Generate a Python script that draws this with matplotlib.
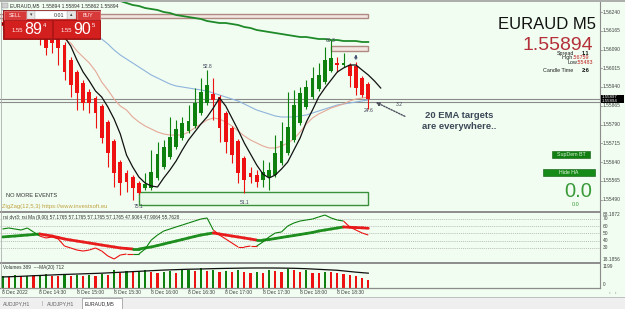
import matplotlib
matplotlib.use('Agg')
import matplotlib.pyplot as plt
from matplotlib.patches import Rectangle
from matplotlib.collections import LineCollection
import matplotlib.transforms as mtrans
import numpy as np

# ---------------- data ----------------
opens = [1.56200, 1.56184, 1.56192, 1.56168, 1.56176, 1.56152, 1.56156, 1.56140, 1.56128, 1.56132,
         1.56108, 1.56048, 1.56000, 1.55956, 1.55920, 1.55896, 1.55864, 1.55800, 1.55724, 1.55640,
         1.55596, 1.55580, 1.55556, 1.55536, 1.55536, 1.55576, 1.55620, 1.55660, 1.55700, 1.55736,
         1.55764, 1.55784, 1.55836, 1.55876, 1.55912, 1.55900, 1.55836, 1.55776, 1.55724, 1.55656,
         1.55596, 1.55588, 1.55568, 1.55580, 1.55588, 1.55636, 1.55676, 1.55728, 1.55796, 1.55860,
         1.55900, 1.55932, 1.55960, 1.56004, 1.56036, 1.56028, 1.56028, 1.56024, 1.55976, 1.55952]
highs = [1.56216, 1.56208, 1.56212, 1.56188, 1.56192, 1.56168, 1.56176, 1.56160, 1.56144, 1.56140,
         1.56120, 1.56060, 1.56008, 1.55968, 1.55932, 1.55904, 1.55872, 1.55808, 1.55732, 1.55648,
         1.55608, 1.55588, 1.55564, 1.55596, 1.55688, 1.55720, 1.55728, 1.55820, 1.55808, 1.55820,
         1.55868, 1.55936, 1.55976, 1.56008, 1.55976, 1.55908, 1.55844, 1.55784, 1.55732, 1.55664,
         1.55620, 1.55608, 1.55648, 1.55640, 1.55748, 1.55800, 1.55920, 1.55928, 1.55940, 1.55968,
         1.56020, 1.56036, 1.56100, 1.56128, 1.56060, 1.56076, 1.56036, 1.56040, 1.55984, 1.55960]
lows = [1.56168, 1.56160, 1.56156, 1.56144, 1.56136, 1.56140, 1.56108, 1.56068, 1.56076, 1.56028,
        1.55968, 1.55900, 1.55848, 1.55848, 1.55836, 1.55776, 1.55716, 1.55620, 1.55540, 1.55508,
        1.55520, 1.55488, 1.55512, 1.55528, 1.55528, 1.55568, 1.55612, 1.55652, 1.55692, 1.55728,
        1.55756, 1.55776, 1.55828, 1.55868, 1.55808, 1.55720, 1.55676, 1.55636, 1.55556, 1.55516,
        1.55556, 1.55540, 1.55540, 1.55528, 1.55580, 1.55628, 1.55668, 1.55720, 1.55788, 1.55852,
        1.55892, 1.55924, 1.55952, 1.56000, 1.56000, 1.56020, 1.55940, 1.55908, 1.55900, 1.55852]
closes = [1.56184, 1.56192, 1.56168, 1.56176, 1.56152, 1.56144, 1.56140, 1.56096, 1.56116, 1.56096,
          1.56000, 1.55948, 1.55916, 1.55876, 1.55876, 1.55836, 1.55736, 1.55676, 1.55596, 1.55556,
          1.55560, 1.55536, 1.55516, 1.55552, 1.55600, 1.55672, 1.55700, 1.55740, 1.55772, 1.55796,
          1.55804, 1.55876, 1.55920, 1.55948, 1.55888, 1.55776, 1.55720, 1.55668, 1.55596, 1.55568,
          1.55580, 1.55560, 1.55600, 1.55608, 1.55676, 1.55724, 1.55780, 1.55868, 1.55916, 1.55940,
          1.55976, 1.55988, 1.56048, 1.56056, 1.56028, 1.56036, 1.55984, 1.55936, 1.55908, 1.55894]

ma_fast = [1.56192, 1.56188, 1.56184, 1.56180, 1.56172, 1.56164, 1.56156, 1.56152, 1.56148, 1.56144,
           1.56140, 1.56104, 1.56048, 1.56000, 1.55964, 1.55924, 1.55900, 1.55860, 1.55812, 1.55752,
           1.55668, 1.55620, 1.55580, 1.55556, 1.55544, 1.55540, 1.55576, 1.55608, 1.55644, 1.55688,
           1.55728, 1.55760, 1.55792, 1.55820, 1.55856, 1.55896, 1.55864, 1.55816, 1.55768, 1.55716,
           1.55672, 1.55628, 1.55592, 1.55576, 1.55588, 1.55612, 1.55640, 1.55688, 1.55736, 1.55800,
           1.55848, 1.55900, 1.55936, 1.55968, 1.56000, 1.56016, 1.56028, 1.56028, 1.56008, 1.55988,
           1.55964, 1.55936]
ema20 = [1.56208, 1.56204, 1.56200, 1.56196, 1.56192, 1.56184, 1.56176, 1.56168, 1.56156, 1.56144,
         1.56132, 1.56116, 1.56084, 1.56060, 1.56036, 1.56004, 1.55960, 1.55928, 1.55892, 1.55864,
         1.55848, 1.55820, 1.55800, 1.55784, 1.55772, 1.55760, 1.55752, 1.55748, 1.55748, 1.55748,
         1.55760, 1.55776, 1.55792, 1.55808, 1.55816, 1.55812, 1.55800, 1.55784, 1.55764, 1.55744,
         1.55728, 1.55716, 1.55704, 1.55696, 1.55696, 1.55704, 1.55716, 1.55732, 1.55760, 1.55792,
         1.55816, 1.55832, 1.55844, 1.55856, 1.55864, 1.55872, 1.55884, 1.55892, 1.55896, 1.55900]
ema50 = [1.56248, 1.56240, 1.56232, 1.56224, 1.56216, 1.56208, 1.56200, 1.56192, 1.56184, 1.56176,
         1.56168, 1.56160, 1.56156, 1.56148, 1.56144, 1.56140, 1.56132, 1.56112, 1.56088, 1.56068,
         1.56052, 1.56036, 1.56020, 1.56004, 1.55988, 1.55976, 1.55964, 1.55952, 1.55944, 1.55940,
         1.55936, 1.55932, 1.55928, 1.55924, 1.55916, 1.55908, 1.55900, 1.55892, 1.55884, 1.55872,
         1.55860, 1.55848, 1.55840, 1.55832, 1.55824, 1.55820, 1.55820, 1.55820, 1.55824, 1.55828,
         1.55836, 1.55844, 1.55852, 1.55860, 1.55868, 1.55872, 1.55876, 1.55880, 1.55884, 1.55888]
ema200 = [1.56424, 1.56416, 1.56408, 1.56400, 1.56392, 1.56384, 1.56376, 1.56368, 1.56360, 1.56352,
          1.56344, 1.56336, 1.56328, 1.56320, 1.56312, 1.56308, 1.56300, 1.56296, 1.56288, 1.56284,
          1.56276, 1.56268, 1.56264, 1.56256, 1.56252, 1.56248, 1.56240, 1.56236, 1.56228, 1.56224,
          1.56220, 1.56216, 1.56212, 1.56204, 1.56200, 1.56196, 1.56196, 1.56192, 1.56188, 1.56180,
          1.56176, 1.56168, 1.56164, 1.56160, 1.56156, 1.56152, 1.56148, 1.56144, 1.56140, 1.56140,
          1.56136, 1.56132, 1.56132, 1.56128, 1.56128, 1.56124, 1.56124, 1.56124, 1.56120, 1.56120]

rsi = [56.2, 57.6, 56.2, 54.8, 57.6, 52.1, 46.5, 43.8, 45.2, 42.4,
       32.7, 30.0, 27.2, 25.8, 27.2, 30.0, 25.8, 18.9, 14.8, 20.3,
       21.7, 21.7, 21.7, 28.6, 41.0, 47.9, 53.4, 56.2, 59.0, 61.7,
       64.5, 67.2, 70.0, 71.4, 54.8, 47.9, 42.4, 36.9, 31.4, 31.4,
       32.7, 32.7, 38.3, 45.2, 50.7, 52.1, 60.3, 64.5, 67.2, 68.6,
       70.0, 72.8, 75.5, 71.4, 68.6, 67.2, 59.0, 54.8, 50.7, 47.9]
rsi_ma = [45.2, 45.9, 46.5, 47.2, 47.9, 48.6, 49.3, 47.9, 46.5, 44.5,
          42.4, 41.0, 39.6, 38.3, 36.9, 35.5, 34.1, 32.7, 31.4, 30.0,
          29.3, 28.6, 28.6, 30.0, 31.4, 33.4, 35.5, 37.6, 39.6, 41.7,
          43.8, 45.9, 47.9, 49.3, 50.7, 49.3, 47.9, 46.5, 45.2, 43.8,
          42.4, 41.0, 41.0, 41.7, 43.1, 44.5, 45.9, 47.2, 48.6, 50.0,
          51.4, 53.4, 54.8, 56.2, 57.6, 59.0, 58.6, 58.2, 57.8, 57.2]

volumes = [560, 520, 610, 560, 590, 560, 610, 650, 590, 570,
           600, 580, 640, 570, 620, 590, 660, 610, 860, 720,
           800, 760, 830, 850, 760, 720, 790, 830, 740, 850,
           870, 800, 960, 830, 860, 770, 810, 750, 860, 780,
           740, 790, 740, 870, 830, 790, 910, 880, 790, 870,
           740, 720, 790, 770, 720, 690, 620, 580, 500, 389]
vol_ma = [530, 540, 550, 560, 575, 590, 600, 615, 625, 640,
          650, 660, 670, 680, 690, 700, 710, 725, 740, 755,
          770, 785, 800, 815, 830, 845, 860, 870, 880, 890,
          900, 905, 912, 920, 928, 935, 940, 945, 950, 955,
          958, 960, 960, 960, 958, 955, 950, 945, 935, 925,
          910, 895, 880, 865, 850, 820, 790, 760, 735, 712]

price_ticks = [1.56240, 1.56165, 1.56090, 1.56015, 1.55940, 1.55865,
               1.55790, 1.55715, 1.55640, 1.55565, 1.55490]
rsi_levels = [70, 60, 50, 40, 30]
time_tick_bars = [0, 6, 12, 18, 24, 30, 36, 42, 48, 54]
time_labels = ["8 Dec 2022", "8 Dec 14:30", "8 Dec 15:00", "8 Dec 15:30", "8 Dec 16:00",
               "8 Dec 16:30", "8 Dec 17:00", "8 Dec 17:30", "8 Dec 18:00", "8 Dec 18:30"]
zones = [  # (start bar, end bar, low, high, kind)
    (-2, 59, 1.56216, 1.56232, 'supply'),
    (53, 59, 1.56084, 1.56104, 'supply'),
    (22, 59, 1.55468, 1.55520, 'demand'),
]
zz_labels = [(53, 1.56124, "60.3"), (33, 1.56024, "52.8"), (22, 1.55460, "75.1"),
             (39, 1.55476, "51.1"), (59, 1.55844, "24.6"), (64, 1.55872, "3.2")]
bid = 1.55894
hline2 = 1.55881

# ---------------- figure ----------------
W, H = 625, 309
plt.rcParams['font.family'] = ['Liberation Sans', 'DejaVu Sans']
fig = plt.figure(figsize=(W / 100, H / 100), dpi=100)
BG = '#f0fdf0'
fig.patch.set_facecolor(BG)
RED = '#ee1111'
GRN = '#0d800d'
TXT = '#404040'


def axes_px(x0, y0, x1, y1, z=1):
    a = fig.add_axes([x0 / W, 1 - y1 / H, (x1 - x0) / W, (y1 - y0) / H], zorder=z)
    a.axis('off')
    return a


X0, DX = 2.5, 6.2
XL = ((0 - X0) / DX, (600 - X0) / DX)

# ---- main chart ----
ax = axes_px(0, 2, 600, 211)
ax.set_xlim(*XL)
ax.set_ylim(1.55444, 1.56280)

for s, e, lo, hi, kind in zones:
    if kind == 'supply':
        fc, ec = '#f3e6e2', '#b08a80'
    else:
        fc, ec = '#eafaea', '#3a8f3a'
    ax.add_patch(Rectangle((s, lo), e - s, hi - lo, facecolor=fc, edgecolor=ec, lw=1.0, zorder=1))

ax.axhline(bid, color='#8a8a8a', lw=0.8, zorder=2)
ax.axhline(hline2, color='#8a8a8a', lw=0.8, zorder=2)

idx = np.arange(len(opens))
o, h, l, c = map(np.array, (opens, highs, lows, closes))
cols = np.where(c >= o, GRN, RED)
ax.vlines(idx, l, h, colors=cols, lw=0.8, zorder=4)
ax.bar(idx, np.maximum(np.abs(c - o), 0.00002), bottom=np.minimum(o, c), width=0.64,
       color=cols, lw=0, zorder=5)

ax.plot(np.arange(len(ema200)), ema200, color='#1f8a2a', lw=1.3, zorder=3)
ax.plot(np.arange(len(ema50)), ema50, color='#8fb4dc', lw=0.8, zorder=3)
ax.plot(np.arange(len(ema20)), ema20, color='#e6a898', lw=0.8, zorder=3)
ax.plot(np.arange(len(ma_fast)), ma_fast, color='#111111', lw=0.9, zorder=6)

for b, p, t in zz_labels:
    ax.text(b, p, t, fontsize=3.6, color='#404058', ha='center', va='center', zorder=7, clip_on=False)

ax.annotate('', xy=(59.8, 1.55884), xytext=(65.3, 1.55818),
            arrowprops=dict(arrowstyle='-|>', ls=(0, (1, 1)), color='#505060', lw=1.0,
                            mutation_scale=5), zorder=7, annotation_clip=False)
ax.annotate('', xy=(57, 1.56082), xytext=(57, 1.56040),
            arrowprops=dict(arrowstyle='-|>', ls=(0, (1, 1)), color='#405070', lw=0.9,
                            mutation_scale=4), zorder=7)

ytr = ax.get_yaxis_transform()
for p in price_ticks:
    ax.text(1.005, p, f"{p:.5f}", transform=ytr, fontsize=3.5, color=TXT, ha='left', va='center',
            clip_on=False)
    ax.plot([1.0, 1.004], [p, p], transform=ytr, color='#808080', lw=0.5, clip_on=False)

# ---- RSI panel ----
ar = axes_px(0, 212, 600, 262)
ar.set_xlim(*XL)
ar.set_ylim(10.66, 79.66)
for lv in rsi_levels:
    ar.axhline(lv, color='#a8a8a8', lw=0.5, ls=(0, (1.5, 1.5)))
    ar.text(1.005, lv, str(lv), transform=ar.get_yaxis_transform(), fontsize=3.5, color=TXT,
            ha='left', va='center', clip_on=False)

ri = np.arange(len(rsi))
rm = np.array(rsi_ma)
rv = np.array(rsi)
seg_col = [GRN if rm[i + 1] >= rm[i] else RED for i in range(len(rm) - 1)]
seg_col_thick = ['#1e8f1e' if rm[i + 1] >= rm[i] else '#e81c1c' for i in range(len(rm) - 1)]
thick = LineCollection([[(ri[i], rm[i]), (ri[i + 1], rm[i + 1])] for i in range(len(rm) - 1)],
                       colors=seg_col_thick, linewidths=2.0, capstyle='round')
thin = LineCollection([[(ri[i], rv[i]), (ri[i + 1], rv[i + 1])] for i in range(len(rv) - 1)],
                      colors=seg_col, linewidths=0.8)
ar.add_collection(thick)
ar.add_collection(thin)

# ---- Volume panel ----
av = axes_px(0, 263, 600, 288)
av.set_xlim(*XL)
av.set_ylim(0, 1199)
vv = np.array(volumes)
vcol = [GRN] + [GRN if vv[i] > vv[i - 1] else RED for i in range(1, len(vv))]
av.bar(np.arange(len(vv)), vv, width=0.34, color=vcol, lw=0)
av.plot(np.arange(len(vol_ma)), vol_ma, color='#111111', lw=0.9)

btr = mtrans.blended_transform_factory(av.transData, av.transAxes)
for b, t in zip(time_tick_bars, time_labels):
    av.text(b - 0.05, -0.17, t, transform=btr, fontsize=3.6, color=TXT, ha='left', va='center',
            clip_on=False)
    av.plot([b, b], [0, -0.06], transform=btr, color='#808080', lw=0.5, clip_on=False)

# ---------------- overlay (pixel coordinates) ----------------
ov = fig.add_axes([0, 0, 1, 1], zorder=10)
ov.set_xlim(0, W)
ov.set_ylim(H, 0)
ov.axis('off')
ov.patch.set_alpha(0)


def rect(x0, y0, x1, y1, fc, ec='none', lw=0.5, z=2):
    ov.add_patch(Rectangle((x0, y0), x1 - x0, y1 - y0, facecolor=fc, edgecolor=ec, lw=lw, zorder=z))


# frame lines
ov.plot([0, W], [0.8, 0.8], color='#a0a0a0', lw=1.2)
ov.plot([0, 600], [211.5, 211.5], color='#8c8c8c', lw=1.4)
ov.plot([0, 600], [262.5, 262.5], color='#8c8c8c', lw=1.4)
ov.plot([0, 600], [288.2, 288.2], color='#8c8c8c', lw=0.9)
ov.plot([600, 600], [2, 288.2], color='#8c8c8c', lw=0.8)
ov.plot([0.5, 0.5], [2, 288.2], color='#b0b0b0', lw=0.6)

# bottom tab bar
rect(0, 296.5, W, H, '#efefef', z=1)
ov.plot([0, W], [296.5, 296.5], color='#b8b8b8', lw=0.6)
rect(82, 298, 122, 309, '#ffffff', '#a0a0a0', lw=0.6)
ov.text(3, 303.5, "AUDJPY,H1", fontsize=3.7, color='#606060', va='center')
ov.text(41.5, 303.5, "|", fontsize=3.7, color='#909090', va='center')
ov.text(47, 303.5, "AUDJPY,H1", fontsize=3.7, color='#606060', va='center')
ov.text(85, 303.5, "EURAUD,M5", fontsize=3.7, color='#303030', va='center')
ov.text(609, 292.5, "\u2039   \u203a", fontsize=3.6, color='#909090', va='center')

# header line
rect(2, 3, 8, 8, '#d0d0d0', '#909090', lw=0.3)
ov.text(10, 5.5, "EURAUD,M5  1.55894 1.55894 1.55862 1.55894", fontsize=3.6, color='#303030',
        va='center')

# one-click trading panel
rect(3, 9.5, 100, 38.5, '#c81818', '#8e1010', lw=0.6)
rect(4, 10.5, 26, 19.5, '#d83a3a', '#e79a9a', lw=0.4, z=3)
rect(77, 10.5, 99.5, 19.5, '#d83a3a', '#e79a9a', lw=0.4, z=3)
rect(27, 11, 35, 19, '#e6e6e6', '#b0b0b0', lw=0.3, z=3)
rect(67, 11, 76, 19, '#e6e6e6', '#b0b0b0', lw=0.3, z=3)
rect(35, 11, 67, 19, '#ffffff', '#b0b0b0', lw=0.3, z=3)
ov.text(15, 15.2, "SELL", fontsize=3.8, color='#ffe8e8', ha='center', va='center', zorder=4)
ov.text(88, 15.2, "BUY", fontsize=3.8, color='#ffe8e8', ha='center', va='center', zorder=4)
ov.text(31, 15, "\u25be", fontsize=3.5, color='#404040', ha='center', va='center', zorder=4)
ov.text(71.5, 15, "\u25b4", fontsize=3.5, color='#404040', ha='center', va='center', zorder=4)
ov.text(64, 15.2, "0.01", fontsize=3.8, color='#303030', ha='right', va='center', zorder=4)
rect(4, 20.3, 52, 37.8, '#d41f1f', '#a31414', lw=0.5, z=3)
rect(53, 20.3, 99.5, 37.8, '#d41f1f', '#a31414', lw=0.5, z=3)
ov.text(23, 32.5, "1.55", fontsize=4.2, color='#fff0f0', ha='right', va='baseline', zorder=4)
ov.text(24.5, 34.5, "89", fontsize=11.5, color='#ffffff', ha='left', va='baseline', zorder=4)
ov.text(42.5, 27, "4", fontsize=4.2, color='#ffffff', ha='left', va='baseline', zorder=4)
ov.text(72, 32.5, "1.55", fontsize=4.2, color='#fff0f0', ha='right', va='baseline', zorder=4)
ov.text(73.5, 34.5, "90", fontsize=11.5, color='#ffffff', ha='left', va='baseline', zorder=4)
ov.text(91.5, 27, "5", fontsize=4.2, color='#ffffff', ha='left', va='baseline', zorder=4)

# symbol info block
ov.text(596, 24.5, "EURAUD M5", fontsize=12, color='#111111', ha='right', va='center')
ov.text(593.5, 45.5, "1.55894", fontsize=14, color='#b5303a', ha='right', va='center')
ov.text(574, 53.2, "Spread", fontsize=3.9, color='#202020', ha='right', va='center')
ov.text(582, 53.2, "1.1", fontsize=3.9, color='#101010', ha='left', va='center', fontweight='bold')
ov.text(572.5, 57.7, "High", fontsize=3.9, color='#202020', ha='right', va='center')
ov.text(572.5, 57.7, ".56759", fontsize=3.9, color='#c02020', ha='left', va='center')
ov.text(577, 62.5, "Low", fontsize=3.9, color='#202020', ha='right', va='center')
ov.text(577, 62.5, ".55483", fontsize=3.9, color='#c02020', ha='left', va='center')
ov.text(573.5, 70.3, "Candle Time", fontsize=3.9, color='#202020', ha='right', va='center')
ov.text(582, 70.3, "2:6", fontsize=3.9, color='#101010', ha='left', va='center', fontweight='bold')

# current price box
rect(600.5, 94.5, 624, 102.5, '#000000', z=3)
ov.text(602, 96.5, "1.55897", fontsize=3.2, color='#ffffff', va='center', zorder=4)
ov.text(602, 100.5, "1.55894", fontsize=3.2, color='#ffffff', va='center', zorder=4)

# annotation
ov.text(459, 115, "20 EMA targets", fontsize=6.8, fontweight='bold', color='#3c4858',
        ha='center', va='center')
ov.text(459.5, 126.5, "are everywhere..", fontsize=6.8, fontweight='bold', color='#3c4858',
        ha='center', va='center')

# buttons / counters
rect(552, 151, 590, 158.3, '#117f11', '#0a5a0a', lw=0.4)
ov.text(571, 154.8, "SupDem BT", fontsize=3.8, color='#d8f0d8', ha='center', va='center', zorder=4)
rect(543, 169, 595, 175.8, '#178b17', '#0a5a0a', lw=0.4)
ov.text(569, 172.5, "Hide HA", fontsize=3.8, color='#e8f8e8', ha='center', va='center', zorder=4)
ov.text(578.5, 191.5, "0.0", fontsize=14.5, color='#3a9a3a', ha='center', va='center')
ov.text(576, 204.5, "0.0", fontsize=4.0, color='#3a9a3a', ha='center', va='center')

# left texts
ov.text(6, 195.5, "NO MORE EVENTS", fontsize=4.1, color='#303030', va='center')
ov.text(2, 206.5, "ZigZag(12,5,3) https://www.investsoft.eu", fontsize=4.2, color='#c0a040',
        va='center')
ov.text(3, 217, "rsi dvr3: rsi Ma (9,00) 57.1765 57.1765 57.1765 57.1765 47.9064 47.9064 55.7628",
        fontsize=3.4, color='#303030', va='center')
ov.text(3, 267.5, "Volumes 389  ~~MA(20) 712", fontsize=3.4, color='#303030', va='center')

# right panel labels
ov.text(602.5, 215, "88.1872", fontsize=3.4, color=TXT, va='center')
ov.text(602.5, 259.5, "18.1856", fontsize=3.4, color=TXT, va='center')
ov.text(602.5, 266.5, "1199", fontsize=3.4, color=TXT, va='center')
ov.text(602.5, 284.5, "0", fontsize=3.4, color=TXT, va='center')

fig.savefig('out.png', dpi=100, facecolor=BG)
